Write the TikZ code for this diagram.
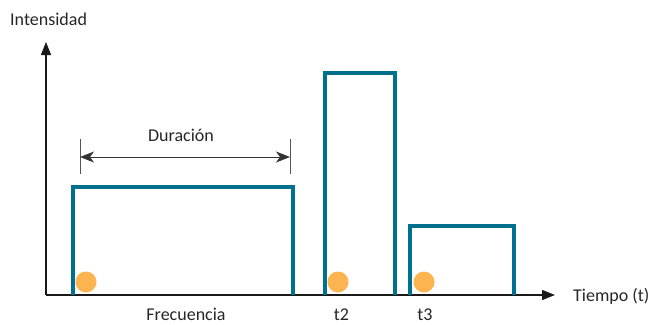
\documentclass[tikz,border=0pt]{standalone}
\usepackage{fontspec}
\setmainfont{Carlito}
\usetikzlibrary{arrows.meta}
\definecolor{teal}{HTML}{00708F}
\definecolor{dot}{HTML}{FBB450}
\definecolor{tickgray}{HTML}{555555}
\begin{document}
\begin{tikzpicture}[x=1pt,y=-1pt,
  axis/.style={line width=1.4pt,draw=black!90,-{Triangle[length=13pt,width=10pt]}},
  pulse/.style={line width=4pt,draw=teal},
  marker/.style={circle,fill=dot,minimum size=21pt,inner sep=0pt},
  lab/.style={font=\fontsize{18}{20}\selectfont,text=black!85,inner sep=0pt,anchor=base},
  botlab/.style={lab,text depth=0pt},
  tick/.style={line width=1pt,draw=tickgray},
  dim/.style={line width=1pt,draw=black!80,{Stealth[length=14pt,width=11pt,inset=4pt]}-{Stealth[length=14pt,width=11pt,inset=4pt]}}]
\useasboundingbox (0,0) rectangle (652,324);
\coordinate (O) at (46,295);
\coordinate (Ytop) at (46,42);
\coordinate (Xend) at (555,295);
\draw[axis] (O) -- (Ytop);
\draw[axis] (O) -- (Xend);
% pulses
\coordinate (p1a) at (73,295); \coordinate (p1b) at (73,187); \coordinate (p1c) at (293,187); \coordinate (p1d) at (293,295);
\draw[pulse] (p1a) -- (p1b) -- (p1c) -- (p1d);
\coordinate (p2a) at (325,295); \coordinate (p2b) at (325,73); \coordinate (p2c) at (395,73); \coordinate (p2d) at (395,295);
\draw[pulse] (p2a) -- (p2b) -- (p2c) -- (p2d);
\coordinate (p3a) at (410,295); \coordinate (p3b) at (410,226); \coordinate (p3c) at (514,226); \coordinate (p3d) at (514,295);
\draw[pulse] (p3a) -- (p3b) -- (p3c) -- (p3d);
% markers
\node[marker] (m1) at (86,282) {};
\node[marker] (m2) at (338,282) {};
\node[marker] (m3) at (424,282) {};
% duration
\coordinate (ta1) at (80,139); \coordinate (ta2) at (80,174);
\coordinate (tb1) at (290,139); \coordinate (tb2) at (290,174);
\draw[tick] (ta1) -- (ta2);
\draw[tick] (tb1) -- (tb2);
\coordinate (da) at (80,157); \coordinate (db) at (290,157);
\draw[dim] (da) -- (db);
\node[lab] (dur) at (181,141.5) {Duración};
% labels
\node[lab,anchor=base west] (int) at (10,25) {Intensidad};
\node[botlab] (frec) at (186,320) {Frecuencia};
\node[botlab] (t2) at (341.5,320) {t2};
\node[botlab] (t3) at (425,320) {t3};
\node[lab,anchor=base west] (tiempo) at (573,301.5) {Tiempo (t)};
\end{tikzpicture}
\end{document}
